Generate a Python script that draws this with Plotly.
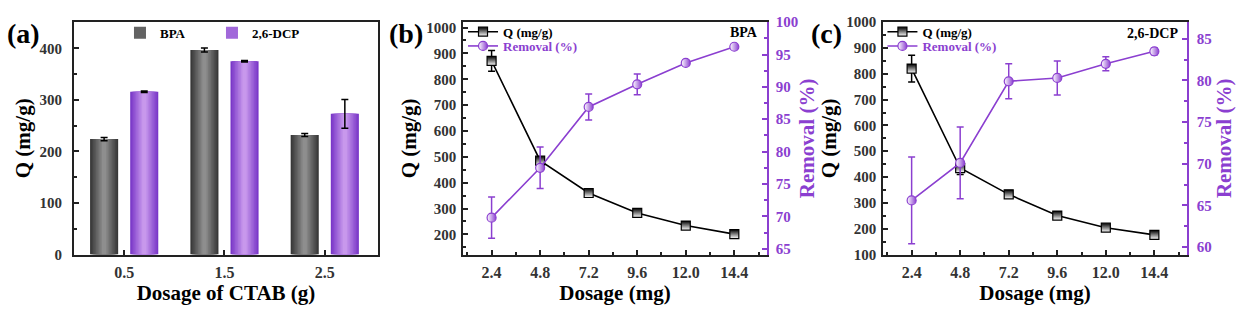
import plotly.graph_objects as go

# ---------------- data ----------------
ctab_dose = [0.5, 1.5, 2.5]
ctab_labels = ["0.5", "1.5", "2.5"]
q_bpa_ctab = [224, 397, 232]
q_bpa_ctab_err = [3, 4, 3]
q_dcp_ctab = [316, 375, 273]
q_dcp_ctab_err = [1.5, 1.5, 28]

dosage = [2.4, 4.8, 7.2, 9.6, 12.0, 14.4]
q_bpa = [871, 485, 360, 283, 234, 201]
q_bpa_err = [40, 12, 9, 9, 8, 8]
rem_bpa = [69.8, 77.5, 86.9, 90.4, 93.7, 96.2]
rem_bpa_err = [3.2, 3.2, 2.0, 1.6, 0.4, 0.4]

q_dcp = [820, 435, 333, 251, 204, 176]
q_dcp_err = [52, 25, 9, 9, 8, 8]
rem_dcp = [65.6, 70.1, 79.9, 80.3, 82.0, 83.5]
rem_dcp_err = [5.2, 4.3, 2.1, 2.05, 0.85, 0.4]

# ---------------- style ----------------
FONT = "Liberation Serif"
PURPLE = "#8B3FD0"
TICKC = "#333333"
BAR_W = 0.28
N_LAYERS = 9


def lerp(c1, c2, t):
    a = [int(c1[i:i + 2], 16) for i in (1, 3, 5)]
    b = [int(c2[i:i + 2], 16) for i in (1, 3, 5)]
    return "#" + "".join(f"{round(a[i] + (b[i] - a[i]) * t):02x}" for i in range(3))


fig = go.Figure()

# ---- panel (a): gradient bars via layered overlay ----
series = [
    ("BPA", q_bpa_ctab, q_bpa_ctab_err, -0.2, "#383838", "#8e8e8e"),
    ("2,6-DCP", q_dcp_ctab, q_dcp_ctab_err, 0.2, "#7a38c8", "#c898ec"),
]
for name, vals, errs, shift, c_edge, c_mid in series:
    for k in range(N_LAYERS):
        t = k / (N_LAYERS - 1)
        w = BAR_W * (1 - 0.85 * t)
        col = lerp(c_edge, c_mid, t)
        last = k == N_LAYERS - 1
        fig.add_trace(go.Bar(
            x=ctab_dose, y=vals, width=w, offset=shift - w / 2,
            marker=dict(color=col, line=dict(width=0)),
            name=name, legendgroup=name, showlegend=(k == N_LAYERS // 2),
            legend="legend",
            error_y=dict(type="data", array=errs, color="black", thickness=1.5, width=3.5, visible=last),
            xaxis="x", yaxis="y",
        ))

# ---- panels (b), (c) ----
def add_panel(xa, ya_l, ya_r, leg_q, leg_r, q, qe, r, re):
    fig.add_trace(go.Scatter(
        x=dosage, y=q, mode="lines+markers", name="Q (mg/g)",
        line=dict(color="black", width=1.6),
        marker=dict(symbol="square", size=9, color="black",
                    gradient=dict(type="vertical", color="white"),
                    line=dict(color="black", width=1.2)),
        error_y=dict(type="data", array=qe, color="black", thickness=1.5, width=3.5),
        xaxis=xa, yaxis=ya_l, legend=leg_q,
    ))
    fig.add_trace(go.Scatter(
        x=dosage, y=r, mode="lines+markers",
        name=f"<span style='color:{PURPLE}'>Removal (%)</span>",
        line=dict(color=PURPLE, width=1.6),
        marker=dict(symbol="circle", size=9, color="white",
                    gradient=dict(type="horizontal", color=PURPLE),
                    line=dict(color=PURPLE, width=1.2)),
        error_y=dict(type="data", array=re, color=PURPLE, thickness=1.5, width=3.5),
        xaxis=xa, yaxis=ya_r, legend=leg_r,
    ))


add_panel("x2", "y2", "y3", "legend2", "legend3", q_bpa, q_bpa_err, rem_bpa, rem_bpa_err)
add_panel("x3", "y4", "y5", "legend4", "legend5", q_dcp, q_dcp_err, rem_dcp, rem_dcp_err)

xtickfont = dict(family=FONT, size=16, color=TICKC, weight="bold")
tickfont = dict(family=FONT, size=15, color=TICKC, weight="bold")
ptickfont = dict(family=FONT, size=15, color=PURPLE, weight="bold")
titlefont = dict(family=FONT, size=21, color="black", weight="bold")
ptitlefont = dict(family=FONT, size=21, color=PURPLE, weight="bold")
legfont = dict(family=FONT, size=13, color="black", weight="bold")

YD = [0.181, 0.953]


def xax(domain, anchor, **kw):
    d = dict(domain=domain, anchor=anchor, showline=True, linecolor="#222", linewidth=2,
             mirror=True, ticks="inside", ticklen=5, tickwidth=1.5, tickcolor="#222",
             tickfont=xtickfont, showgrid=False, zeroline=False, ticklabelstandoff=2)
    d.update(kw)
    return d


def yax(anchor, **kw):
    d = dict(domain=YD, anchor=anchor, showline=True, linecolor="#222", linewidth=2,
             ticks="inside", ticklen=5, tickwidth=1.5, tickcolor="#222",
             tickfont=tickfont, showgrid=False, zeroline=False)
    d.update(kw)
    return d


minor_x = dict(ticks="inside", ticklen=3, tickcolor="#222", tick0=2.4, dtick=1.2)


def leg(x, y, orientation="v", **kw):
    d = dict(x=x, y=y, xanchor="left", yanchor="middle", orientation=orientation,
             font=legfont, bgcolor="rgba(0,0,0,0)", itemclick=False, itemdoubleclick=False)
    d.update(kw)
    return d


def ann(text, x, y, size):
    return dict(text=text, x=x / 1242, y=1 - y / 317, xref="paper", yref="paper",
                xanchor="center", yanchor="middle", showarrow=False,
                font=dict(family=FONT, size=size, color="black", weight="bold"))


fig.update_layout(
    width=1242, height=317, margin=dict(l=0, r=0, t=0, b=0),
    paper_bgcolor="white", plot_bgcolor="white",
    barmode="overlay",
    xaxis=xax([0.0596, 0.3043], "y", range=[0, 3.03], tickvals=ctab_dose, ticktext=ctab_labels,
              title=dict(text="Dosage of CTAB (g)", font=titlefont, standoff=1)),
    yaxis=yax("x", range=[0, 451], dtick=100, mirror=True,
              minor=dict(ticks="inside", ticklen=3, tickcolor="#222", dtick=50),
              ticklabelstandoff=7,
              title=dict(text="Q (mg/g)", font=titlefont, standoff=3)),
    xaxis2=xax([0.373, 0.6173], "y2", range=[1, 16], tick0=2.4, dtick=2.4, tickformat=".1f",
               minor=minor_x, title=dict(text="Dosage (mg)", font=titlefont, standoff=1)),
    yaxis2=yax("x2", range=[122, 1021], dtick=100,
               minor=dict(ticks="inside", ticklen=3, tickcolor="#222", dtick=50),
               ticklabelstandoff=2,
               title=dict(text="Q (mg/g)", font=titlefont, standoff=4)),
    yaxis3=yax("x2", overlaying="y2", side="right", range=[64.1, 100], dtick=5,
               linecolor=PURPLE, tickcolor=PURPLE, tickfont=ptickfont,
               minor=dict(ticks="inside", ticklen=3, tickcolor=PURPLE, dtick=2.5),
               ticklabelstandoff=4,
               title=dict(text="Removal (%)", font=ptitlefont, standoff=2)),
    xaxis3=xax([0.7112, 0.9555], "y4", range=[1, 16], tick0=2.4, dtick=2.4, tickformat=".1f",
               minor=minor_x, title=dict(text="Dosage (mg)", font=titlefont, standoff=1)),
    yaxis4=yax("x3", range=[100, 1000], dtick=100,
               minor=dict(ticks="inside", ticklen=3, tickcolor="#222", dtick=50),
               ticklabelstandoff=2,
               title=dict(text="Q (mg/g)", font=titlefont, standoff=4)),
    yaxis5=yax("x3", overlaying="y4", side="right", range=[59.1, 87], dtick=5,
               linecolor=PURPLE, tickcolor=PURPLE, tickfont=ptickfont,
               minor=dict(ticks="inside", ticklen=3, tickcolor=PURPLE, dtick=2.5),
               ticklabelstandoff=5,
               title=dict(text="Removal (%)", font=ptitlefont, standoff=3)),
    legend=leg(0.0966, 1 - 26 / 317, orientation="h", entrywidth=47),
    legend2=leg(0.3728, 1 - 25 / 317),
    legend3=leg(0.3728, 1 - 40 / 317),
    legend4=leg(0.7105, 1 - 25 / 317),
    legend5=leg(0.7105, 1 - 40 / 317),
    annotations=[
        ann("(a)", 23, 27, 28),
        ann("(b)", 406, 27, 28),
        ann("(c)", 826, 27, 28),
        ann("BPA", 744, 26, 14),
        ann("2,6-DCP", 1152, 27, 14),
    ],
)

fig.write_html("out.html")
